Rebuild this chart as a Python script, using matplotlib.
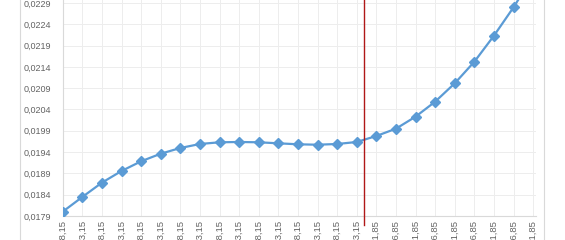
import matplotlib
matplotlib.use("Agg")
import matplotlib.pyplot as plt
from matplotlib.lines import Line2D

# category labels (temperatures, K) - only their tail is visible in the crop
labels = [f"{218 + 5 * i},15" for i in range(16)] + [f"{301 + 5 * i},85" for i in range(9)]

values = [
    0.018001, 0.018346, 0.018682, 0.018956, 0.019184, 0.019362, 0.019496,
    0.019590, 0.019630, 0.019637, 0.019630, 0.019606, 0.019583, 0.019573,
    0.019590, 0.019637, 0.019778, 0.019949, 0.020231, 0.020583, 0.021014,
    0.021521, 0.022132, 0.022798, 0.023533,
]

y_ticks = [0.0179 + 0.0005 * i for i in range(13)]
marker_line_x = 15.36  # red reference line, between 15th and 16th category

BLUE = "#5B9BD5"
GRID = "#EDEDED"
TEXT = "#636363"

plt.rcParams["font.family"] = ["Liberation Sans", "DejaVu Sans"]

fig = plt.figure(figsize=(5.65, 2.4), dpi=100)
ax = fig.add_axes([62.7 / 565, 24 / 240, 472.8 / 565, 259.9 / 240])

x = list(range(len(values)))
ax.plot(x, values, color=BLUE, lw=1.6, marker="D", markersize=5.6,
        markerfacecolor=BLUE, markeredgecolor=BLUE, zorder=3)

ax.axvline(marker_line_x, ymin=-0.036, ymax=1, color="#B01818", lw=1.0,
           clip_on=False, zorder=4)

ax.set_xlim(0, 24.12)
ax.set_ylim(0.0179, 0.0240)
ax.set_xticks(x)
ax.set_xticklabels(labels, rotation=90, fontsize=6.8, color=TEXT, va="top")
ax.set_yticks(y_ticks)
ax.set_yticklabels([f"{v:.4f}".replace(".", ",") for v in y_ticks],
                   fontsize=6.5, color=TEXT)
ax.tick_params(axis="both", length=0)
ax.tick_params(axis="y", pad=8)
ax.tick_params(axis="x", pad=3)

ax.grid(True, color=GRID, lw=0.7)
ax.set_axisbelow(True)
for side in ["top", "right"]:
    ax.spines[side].set_visible(False)
for side in ["left", "bottom"]:
    ax.spines[side].set_color("#D9D9D9")
    ax.spines[side].set_linewidth(0.8)

# chart frame edges
fig.add_artist(Line2D([20 / 565, 20 / 565], [0, 1], color="#D9D9D9", lw=0.8))
fig.add_artist(Line2D([544 / 565, 544 / 565], [0, 1], color="#D9D9D9", lw=0.8))

fig.savefig("out.png", dpi=100)
